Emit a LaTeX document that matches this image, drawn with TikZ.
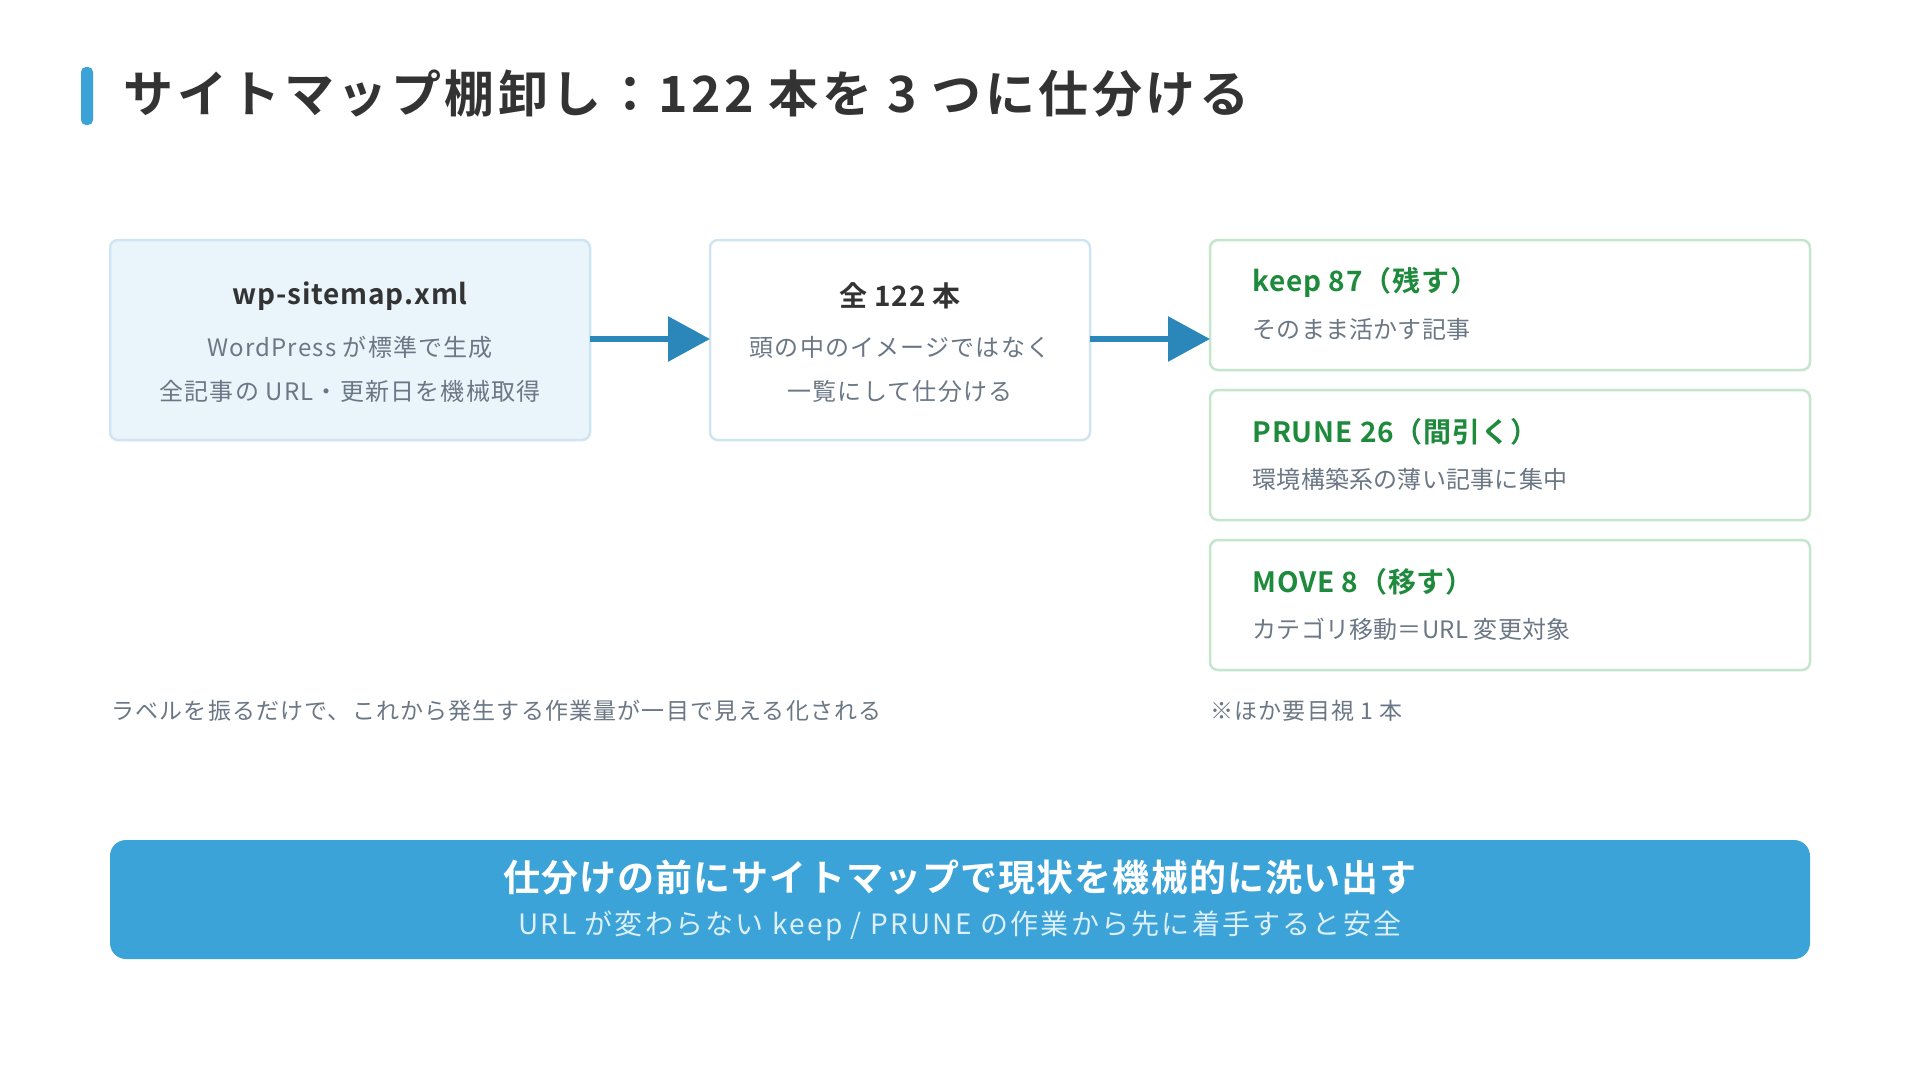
\documentclass[tikz,border=0pt]{standalone}
\usepackage{fontspec}
\setmainfont{Noto Sans CJK JP}[BoldFont={Noto Sans CJK JP Bold}]
\usetikzlibrary{arrows.meta}
\definecolor{titledark}{HTML}{333333}
\definecolor{accent}{HTML}{3BA3D8}
\definecolor{boxfill}{HTML}{E9F4FB}
\definecolor{boxline}{HTML}{CFE6F2}
\definecolor{arrowblue}{HTML}{2B86B9}
\definecolor{greenline}{HTML}{C5E5CD}
\definecolor{greentext}{HTML}{1E8A3C}
\definecolor{graytext}{HTML}{6B7785}
\definecolor{lighttext}{HTML}{DDF0FA}
\newcommand{\spc}[1]{\addfontfeatures{LetterSpace=#1}}
\tikzset{
  srcbox/.style={draw=boxline, line width=2.5pt, rounded corners=8pt, fill=boxfill},
  midbox/.style={draw=boxline, line width=2.5pt, rounded corners=8pt, fill=white},
  catbox/.style={draw=greenline, line width=2.5pt, rounded corners=8pt, fill=white},
  boxhead/.style={font=\fontsize{28}{32}\selectfont\bfseries\spc{3}, text=titledark},
  boxsub/.style={font=\fontsize{24}{28}\selectfont\spc{5}, text=graytext},
  cathead/.style={font=\fontsize{28}{32}\selectfont\bfseries\spc{3}, text=greentext, anchor=west},
  catsub/.style={font=\fontsize{24}{28}\selectfont\spc{1}, text=graytext, anchor=west},
  note/.style={font=\fontsize{23}{26}\selectfont\spc{5}, text=graytext, anchor=west},
  flow/.style={draw=arrowblue, line width=6pt, -{Triangle[length=42pt,width=44pt]}},
}
\begin{document}
\begin{tikzpicture}[x=1pt,y=-1pt]
\useasboundingbox[fill=white] (0,0) rectangle (1920,1080);
% title
\fill[accent, rounded corners=5pt] (81,67) rectangle (93,125);
\node[anchor=west, font=\fontsize{50}{56}\selectfont\bfseries\spc{7}, text=titledark] (title) at (120,94) {サイトマップ棚卸し：122 本を 3 つに仕分ける};
% source box
\draw[srcbox] (110,240) rectangle (590,440);
\coordinate (srcE) at (590,339);
\node[boxhead] (srchead) at (350,296) {wp-sitemap.xml};
\node[boxsub] (srcs1) at (350,347) {WordPress が標準で生成};
\node[boxsub] (srcs2) at (350,391) {全記事の URL・更新日を機械取得};
% middle box
\draw[midbox] (710,240) rectangle (1090,440);
\coordinate (midW) at (710,339);
\coordinate (midE) at (1090,339);
\node[boxhead] (midhead) at (900,296) {全 122 本};
\node[boxsub] (mids1) at (900,347) {頭の中のイメージではなく};
\node[boxsub] (mids2) at (900,391) {一覧にして仕分ける};
% categories
\draw[catbox] (1210,240) rectangle (1810,370);
\coordinate (keepW) at (1210,339);
\node[cathead] (keephead) at (1249,282) {keep 87（残す）};
\node[catsub] (keepsub) at (1249,329) {そのまま活かす記事};
\draw[catbox] (1210,390) rectangle (1810,520);
\node[cathead] (prunehead) at (1249,432) {PRUNE 26（間引く）};
\node[catsub] (prunesub) at (1249,479) {環境構築系の薄い記事に集中};
\draw[catbox] (1210,540) rectangle (1810,670);
\node[cathead] (movehead) at (1249,582) {MOVE 8（移す）};
\node[catsub] (movesub) at (1249,629) {カテゴリ移動＝URL 変更対象};
% arrows
\draw[flow] (srcE) -- (midW);
\draw[flow] (midE) -- (keepW);
% notes
\node[note] (note1) at (108,711) {ラベルを振るだけで、これから発生する作業量が一目で見える化される};
\node[note] (note2) at (1207,711) {※ほか要目視 1 本};
% banner
\fill[accent, rounded corners=16pt] (110,840) rectangle (1810,959);
\node[font=\fontsize{37}{42}\selectfont\bfseries\spc{3}, text=white] (bann1) at (960,877) {仕分けの前にサイトマップで現状を機械的に洗い出す};
\node[font=\fontsize{28}{32}\selectfont\spc{8}, text=lighttext] (bann2) at (960,926) {URL が変わらない keep / PRUNE の作業から先に着手すると安全};
\end{tikzpicture}
\end{document}
